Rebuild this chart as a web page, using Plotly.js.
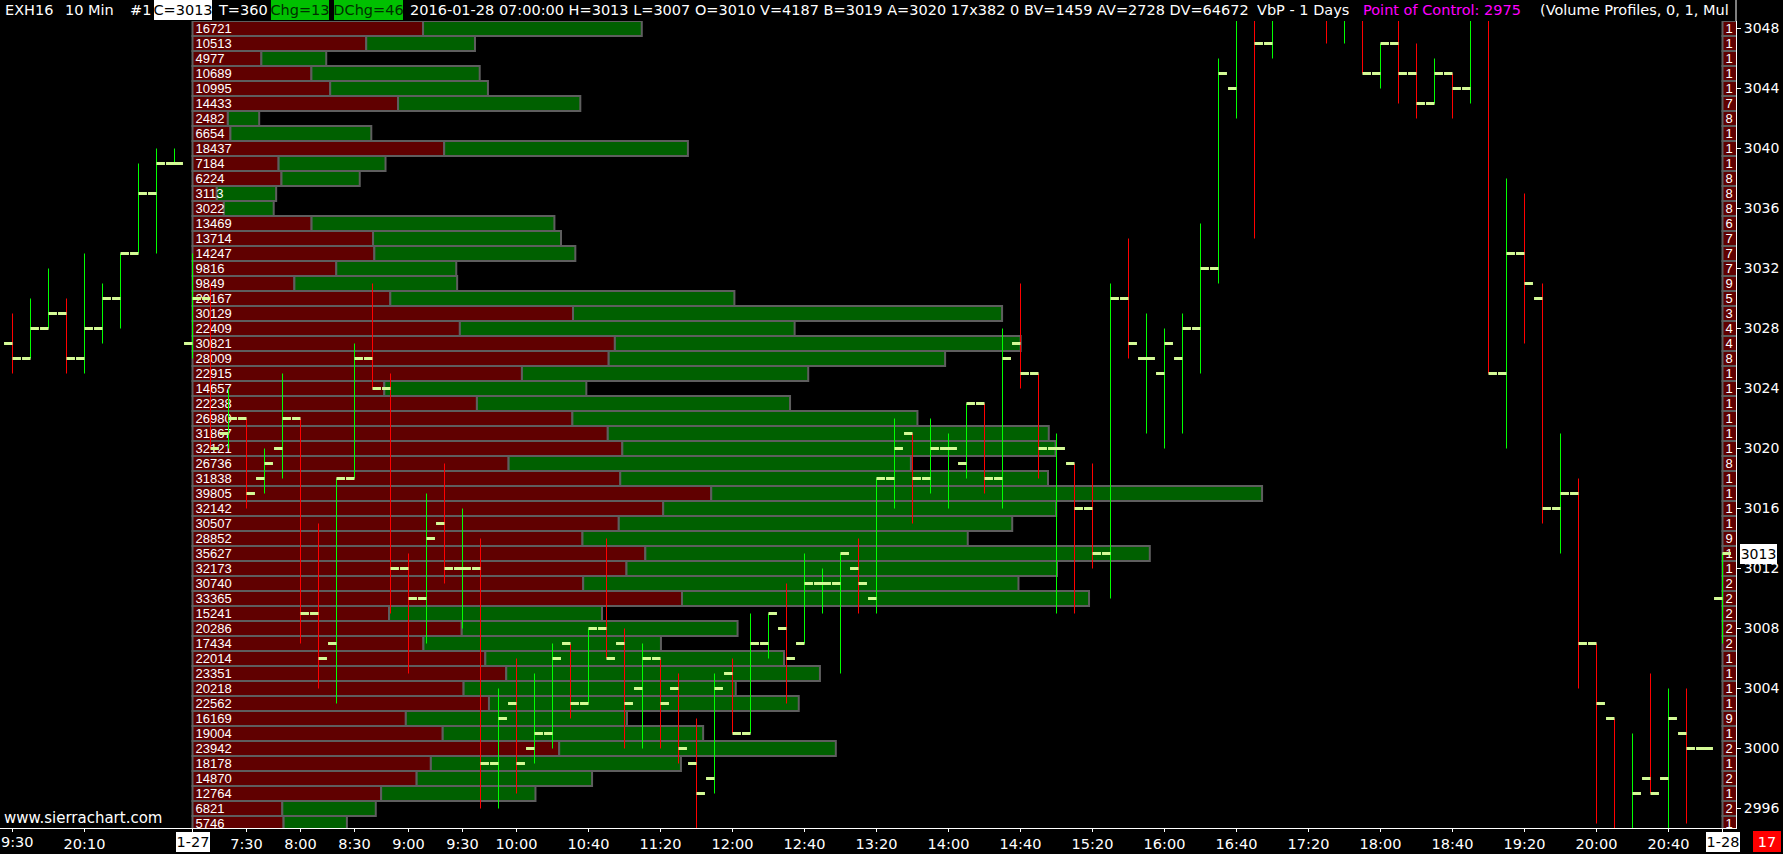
<!DOCTYPE html>
<html><head><meta charset="utf-8">
<script src="https://cdn.plot.ly/plotly-3.0.1.min.js"></script>
<style>html,body{margin:0;padding:0;background:#000;overflow:hidden}#chart{width:1783px;height:854px}</style>
</head><body><div id="chart"></div>
<script>
// ---------- Volume profile of 1-27 (rows from 3048 down to 2995) ----------
const profileTopPrice = 3048;
const profileTotal = [16721, 10513, 4977, 10689, 10995, 14433, 2482, 6654, 18437, 7184,
  6224, 3113, 3022, 13469, 13714, 14247, 9816, 9849, 20167, 30129,
  22409, 30821, 28009, 22915, 14657, 22238, 26980, 31867, 32121, 26736,
  31838, 39805, 32142, 30507, 28852, 35627, 32173, 30740, 33365, 15241,
  20286, 17434, 22014, 23351, 20218, 22562, 16169, 19004, 23942, 18178,
  14870, 12764, 6821, 5746];
const profileBid = [8580, 6465, 2563, 4425, 5124, 7650, 1315, 1411, 9366, 3204,
  3311, 903, 1166, 4431, 6720, 6767, 5350, 3792, 7361, 14161,
  9950, 15719, 15489, 12260, 7138, 10585, 14138, 15455, 15996, 11764,
  15919, 19305, 17517, 15864, 14513, 16852, 16151, 14540, 18217, 7316,
  10021, 8595, 10897, 11676, 10089, 11033, 7939, 9312, 13647, 8871,
  8342, 7020, 3342, 3390];
// first visible digits of the 1-28 profile column (clipped by the price scale)
const nextDayDigits = ['1','1','1','1','1','7','8','1','1','1','8','8','8','6','7','7','7','9','5','3',
  '4','4','8','1','1','1','1','1','1','8','1','1','1','1','9','1','1','2','2','2',
  '2','2','1','1','1','1','9','1','2','1','2','1','2','1'];

// ---------- 10-minute OHLC bars; bar index 0 = 1-27 07:00 ----------
const firstBarIndex = -10;
const barOpen  = [3027,3026,3028,3029,3026,3028,3030,3033,3037,3039,
  3027,3030,3021,3022,3018,3020,3022,3009,3007,3018,3026,3024,3012,3010,3015,3012,
  3012,2999,3003,3000,3001,3007,3003,3008,3007,3004,3006,3004,2999,2998,3005,3001,
  3007,3008,3007,3011,3011,3012,3010,3018,3021,3018,3020,3019,3023,3018,3027,3025,
  3020,3019,3016,3013,3030,3026,3025,3026,3028,3032,3044,3049,3047,null,null,3050,
  3049,3049,3045,3047,3045,3043,3045,3044,3049,3025,3033,3030,3016,3017,3007,3002,
  2994,2998,2998,3001,3000,3010];
const barHigh  = [3029,3030,3032,3030,3033,3031,3033,3039,3040,3040,
  3033,3031,3024,3022,3020,3025,3022,3015,3018,3027,3031,3025,3013,3017,3019,3016,
  3014,3004,3006,3005,3007,3007,3008,3014,3008,3007,3006,3005,3002,3005,3006,3009,
  3009,3011,3013,3012,3013,3014,3018,3022,3021,3022,3021,3023,3023,3028,3031,3025,
  3021,3019,3019,3031,3034,3029,3028,3029,3035,3046,3049,3049,3049,null,null,3050,
  3050,3049,3047,3049,3047,3046,3045,3049,3049,3038,3037,3031,3021,3018,3007,3002,
  3001,3005,3004,3004,3000,3013];
const barLow   = [3025,3026,3028,3025,3025,3027,3028,3033,3033,3039,
  3026,3020,3020,3016,3017,3018,3007,3004,3003,3018,3024,3009,3005,3007,3011,3008,
  2996,2996,2997,2999,3000,3002,3003,3006,3000,3000,3000,2999,2994,2997,3001,3001,
  3006,3003,3007,3009,3005,3009,3009,3016,3015,3017,3016,3018,3017,3016,3024,3018,
  3009,3009,3012,3010,3026,3021,3020,3021,3025,3031,3042,3034,3046,null,null,3047,
  3047,3045,3044,3043,3042,3043,3042,3043,3025,3020,3027,3015,3013,3004,2995,2994,
  2994,2997,2994,2995,3000,3007];
const barClose = [3026,3028,3029,3026,3028,3030,3033,3037,3039,3039,
  3030,3020,3022,3017,3019,3022,3009,3006,3018,3026,3024,3012,3010,3014,3012,3012,
  2999,3002,2999,3001,3006,3003,3008,3006,3003,3006,3003,3000,2997,3004,3001,3007,
  3009,3006,3011,3011,3013,3011,3018,3020,3018,3020,3020,3023,3018,3026,3025,3020,
  3020,3016,3013,3030,3027,3026,3027,3028,3032,3045,3049,3047,3049,null,null,3049,
  3050,3045,3047,3045,3043,3045,3044,3049,3025,3033,3031,3016,3017,3007,3003,2994,
  2997,2997,3002,3000,3000,3013];

// ---------- time axis labels ----------
const tickIndex = [-10,-6,0,3,6,9,12,15,18,22,26,30,34,38,42,46,50,54,58,62,66,70,74,78,82,85];
const tickText  = ['9:30','20:10','1-27','7:30','8:00','8:30','9:00','9:30','10:00','10:40','11:20',
  '12:00','12:40','13:20','14:00','14:40','15:20','16:00','16:40','17:20','18:00','18:40','19:20',
  '20:00','20:40','1-28'];
const dateTicks = ['1-27','1-28'];

// ---------- header ----------
const headerParts = [
  {x:5, t:'EXH16'}, {x:65, t:'10 Min'}, {x:130, t:'#1'},
  {x:154, t:'C=3013', w:58, bg:'#ffffff', c:'#000000'},
  {x:218, t:'T=360'},
  {x:271, t:'Chg=13', w:58, bg:'#00c000', c:'#003000'},
  {x:334, t:'DChg=46', w:69, bg:'#00c000', c:'#003000'},
  {x:410, t:'2016-01-28 07:00:00 H=3013 L=3007 O=3010 V=4187 B=3019 A=3020 17x382 0 BV=1459 AV=2728 DV=64672'},
  {x:1257, t:'VbP - 1 Days'},
  {x:1363, t:'Point of Control: 2975', c:'#ff00ff'},
  {x:1540, t:'(Volume Profiles, 0, 1, Mul'}
];
const lastPrice = 3013;
const timerText = '17';

// ---------- geometry ----------
const W = 1783, H = 854, PL = 0, PR = 1736, PT = 21, PB = 828;
const barPx = 18, bar0Px = 192.5;          // pixel of bar index 0
const volPx = 0.02687;                     // pixels per contract
const rowPx = 15, topRowPx = 28.5;         // pixel of 3048
const px = p => (p - PL) / (PR - PL);
const py = p => (PB - p) / (PB - PT);
const mono = 'DejaVu Sans, Verdana, sans-serif';

const prices = profileTotal.map((_, i) => profileTopPrice - i);
const ask = profileTotal.map((t, i) => t - profileBid[i]);
const border = {color:'#5e5e5e', width:2};

const traces = [];
traces.push({type:'bar', orientation:'h', x:profileBid, y:prices, base:0, width:1,
  marker:{color:'#600000', line:border}, xaxis:'x', yaxis:'y', hoverinfo:'skip'});
traces.push({type:'bar', orientation:'h', x:ask, y:prices, base:profileBid, width:1,
  marker:{color:'#006000', line:border}, xaxis:'x', yaxis:'y', hoverinfo:'skip'});
traces.push({type:'bar', orientation:'h', x:profileTotal, y:prices, base:0, width:1,
  marker:{color:'rgba(0,0,0,0)', line:{width:0}}, text:profileTotal.map(String),
  textposition:'inside', insidetextanchor:'start', constraintext:'none', textangle:0,
  textfont:{family:'Liberation Sans, Arial, sans-serif', size:13, color:'#ffffff'},
  xaxis:'x', yaxis:'y', hoverinfo:'skip'});

// 1-28 profile column starting at the 1-28 bar, clipped by the plot edge
const lastIdx = firstBarIndex + barOpen.length - 1;
traces.push({type:'bar', orientation:'h', x:nextDayDigits.map(() => 1), y:prices, base:lastIdx, width:1,
  marker:{color:'#600000', line:border}, text:nextDayDigits,
  textposition:'inside', insidetextanchor:'start', constraintext:'none', textangle:0,
  textfont:{family:'Liberation Sans, Arial, sans-serif', size:13, color:'#ffffff'},
  xaxis:'x2', yaxis:'y', hoverinfo:'skip'});

const valid = [];
barOpen.forEach((o, i) => { if (o !== null) valid.push(i); });
const up = valid.filter(i => barClose[i] >= barOpen[i]);
const dn = valid.filter(i => barClose[i] < barOpen[i]);
function ohlcTrace(sel, color, width, tw, ticksOnly) {
  return {type:'ohlc', xaxis:'x2', yaxis:'y', hoverinfo:'skip',
    x: sel.map(i => firstBarIndex + i),
    open: sel.map(i => barOpen[i]),
    high: sel.map(i => ticksOnly ? barOpen[i] : barHigh[i]),
    low: sel.map(i => ticksOnly ? barOpen[i] : barLow[i]),
    close: sel.map(i => barClose[i]),
    increasing:{line:{color:color, width:width}},
    decreasing:{line:{color:color, width:width}},
    tickwidth: tw};
}
traces.push(ohlcTrace(up, '#00ff00', 1, 0, false));
traces.push(ohlcTrace(dn, '#ff0000', 1, 0, false));
traces.push(ohlcTrace(valid, '#d4fa96', 3, 0.47, true));

// ---------- annotations ----------
const ann = [];
headerParts.forEach(h => {
  const a = {xref:'paper', yref:'paper', x:px(h.x), y:py(10.5), xanchor:'left', yanchor:'middle',
    text:h.t, showarrow:false, borderpad:0, borderwidth:0,
    font:{family:mono, size:14.5, color:h.c || '#ffffff'}};
  if (h.bg) { a.bgcolor = h.bg; a.width = h.w; a.height = 20; }
  ann.push(a);
});
dateTicks.forEach(d => {
  const k = tickText.indexOf(d);
  ann.push({xref:'x2', yref:'paper', x:tickIndex[k], y:py(842), xanchor:'center', yanchor:'middle',
    text:d, showarrow:false, bgcolor:'#ffffff', width:34, height:20, borderpad:0, borderwidth:0,
    font:{family:mono, size:14.5, color:'#000000'}});
});
// first time label sits at the left edge: drawn left-anchored so it stays whole
ann.push({xref:'paper', yref:'paper', x:px(1), y:py(842), xanchor:'left', yanchor:'middle',
  text:tickText[0], showarrow:false, borderpad:0, borderwidth:0,
  font:{family:mono, size:14.5, color:'#ffffff'}});
ann.push({xref:'paper', yref:'paper', x:px(1753), y:py(841.5), xanchor:'left', yanchor:'middle',
  text:timerText, showarrow:false, bgcolor:'#ff0000', width:28, height:21, borderpad:0, borderwidth:0,
  font:{family:mono, size:14.5, color:'#ffffff'}});
ann.push({xref:'paper', yref:'y', x:px(1740), y:lastPrice, xanchor:'left', yanchor:'middle',
  text:String(lastPrice), showarrow:false, bgcolor:'#ffffff', width:37, height:20, borderpad:0, borderwidth:0,
  font:{family:mono, size:14, color:'#000000'}});
ann.push({xref:'paper', yref:'paper', x:px(2), y:py(818), xanchor:'left', yanchor:'middle',
  text:'www.sierrachart.com', showarrow:false, font:{family:mono, size:15, color:'#ffffff'}});

const axisTickText = tickText.map((t, i) => i === 0 ? '' : t);
const layout = {
  width:W, height:H, margin:{l:PL, r:W-PR, t:PT, b:H-PB, pad:0},
  paper_bgcolor:'#000000', plot_bgcolor:'#000000', showlegend:false,
  barmode:'overlay', hovermode:false, dragmode:false,
  xaxis:{range:[(PL-bar0Px)/volPx, (PR-bar0Px)/volPx], visible:false, fixedrange:true,
    rangeslider:{visible:false}},
  xaxis2:{overlaying:'x', anchor:'y', side:'bottom',
    range:[(PL-bar0Px)/barPx, (PR-bar0Px)/barPx],
    tickmode:'array', tickvals:tickIndex, ticktext:axisTickText, ticklabeloverflow:'allow',
    ticks:'outside', ticklen:3, tickcolor:'#ffffff', showline:true, linecolor:'#ffffff', linewidth:1,
    showgrid:false, zeroline:false, automargin:false, fixedrange:true,
    tickfont:{family:mono, size:14.5, color:'#ffffff'}, rangeslider:{visible:false}},
  yaxis:{side:'right', range:[profileTopPrice - (PB-topRowPx)/rowPx, profileTopPrice + (topRowPx-PT)/rowPx],
    tick0:profileTopPrice, dtick:4, ticks:'outside', ticklen:4, tickcolor:'#ffffff',
    showline:true, linecolor:'#ffffff', linewidth:1, showgrid:false, zeroline:false,
    automargin:false, fixedrange:true, tickfont:{family:mono, size:14, color:'#ffffff'}},
  annotations:ann,
  shapes:[{type:'line', xref:'paper', yref:'paper', x0:1, x1:1, y0:1, y1:py(0),
    line:{color:'#ffffff', width:1}}]
};
Plotly.newPlot('chart', traces, layout, {staticPlot:true, displayModeBar:false});
</script>
</body></html>
